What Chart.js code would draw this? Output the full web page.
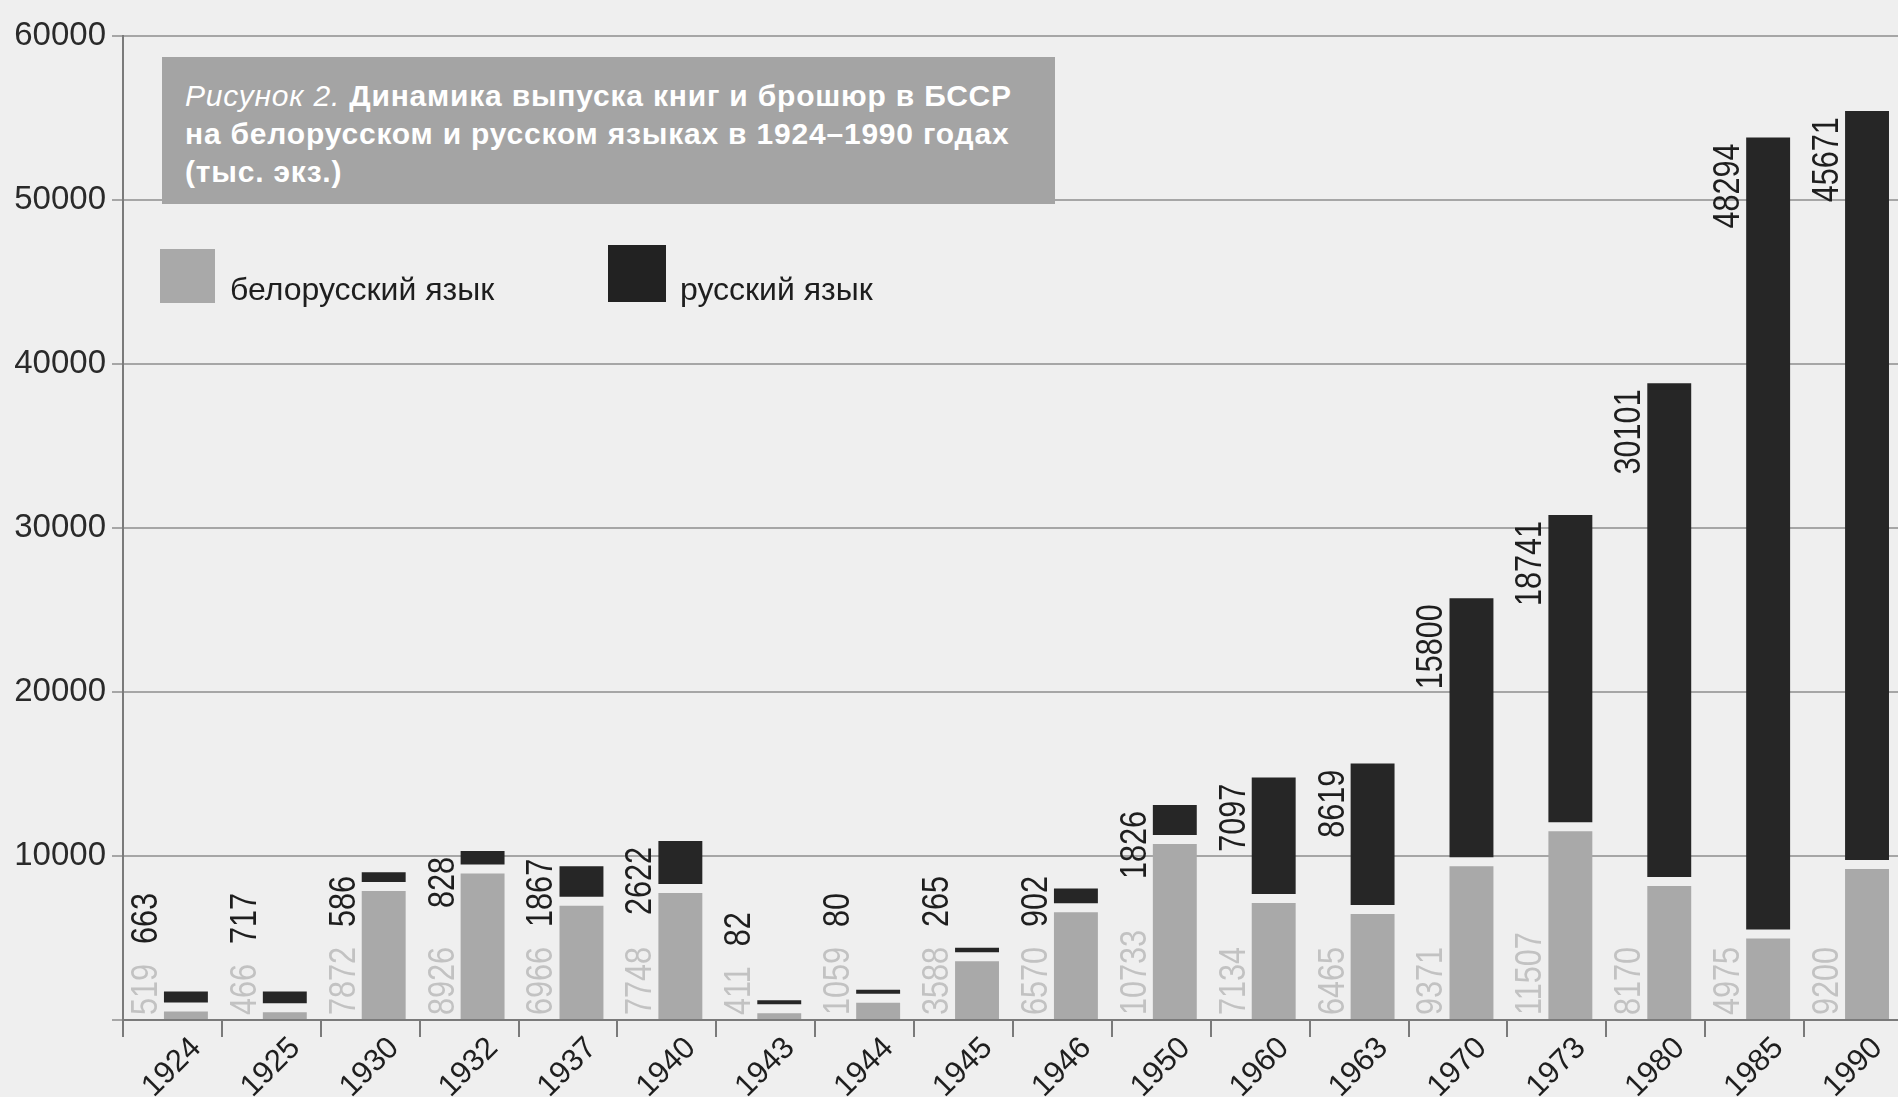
<!DOCTYPE html>
<html lang="ru">
<head>
<meta charset="utf-8">
<title>Динамика выпуска книг и брошюр в БССР</title>
<script src="https://cdn.jsdelivr.net/npm/chart.js@4.4.0/dist/chart.umd.min.js"></script>
<style>
  html, body {
    margin: 0;
    width: 1898px;
    height: 1097px;
    overflow: hidden;
    background: #efefef;
    font-family: 'Liberation Sans', Arial, sans-serif;
  }
  #wrap {
    position: absolute;
    left: 0;
    top: 0;
    width: 1906px;
    height: 1097px;
  }
  .title {
    position: absolute;
    left: 162px;
    top: 57px;
    width: 870px;
    height: 127px;
    padding: 20px 0 0 23px;
    background: #a4a4a4;
    color: #ffffff;
    font-size: 30px;
    letter-spacing: 0.8px;
    line-height: 38px;
    font-weight: bold;
    white-space: nowrap;
  }
  .title i {
    font-weight: normal;
  }
  .legend {
    position: absolute;
    top: 245px;
    font-size: 32px;
    color: #1e1e1e;
    white-space: nowrap;
  }
  .legend span.box {
    position: absolute;
    left: 0;
  }
  .legend span.txt {
    position: absolute;
    top: 26px;
  }
</style>
</head>
<body>
<div id="wrap"><canvas id="bookChart"></canvas></div>

<div class="title"><i>Рисунок 2.</i> Динамика выпуска книг и брошюр в БССР<br>на белорусском и русском языках в 1924–1990 годах<br>(тыс. экз.)</div>

<div class="legend" style="left:160px">
  <span class="box" style="background:#a9a9a9; top:4px; height:54px; width:55px"></span>
  <span class="txt" style="left:70px">белорусский язык</span>
</div>
<div class="legend" style="left:608px">
  <span class="box" style="background:#222222; top:0; width:58px; height:57px"></span>
  <span class="txt" style="left:72px">русский язык</span>
</div>

<script>
const categories = ['1924', '1925', '1930', '1932', '1937', '1940', '1943', '1944', '1945',
  '1946', '1950', '1960', '1963', '1970', '1973', '1980', '1985', '1990']
const belarusian = [519, 466, 7872, 8926, 6966, 7748, 411, 1059, 3588,
  6570, 10733, 7134, 6465, 9371, 11507, 8170, 4975, 9200]
const russian = [663, 717, 586, 828, 1867, 2622, 82, 80, 265,
  902, 1826, 7097, 8619, 15800, 18741, 30101, 48294, 45671]
const yTickValues = [0, 10000, 20000, 30000, 40000, 50000, 60000]

const FONT = "'Liberation Sans', Arial, sans-serif"
const RUS_LIFT = 9 // white gap between the two parts of a bar
const SQUEEZE = 0.85 // the print uses a condensed face

// rotated value labels to the left of every bar
const valueLabels = {
  id: 'valueLabels',
  beforeDatasetDraw(chart, args) {
    if (args.index === 2) {
      chart.ctx.save()
      chart.ctx.translate(0, -RUS_LIFT)
    }
  },
  afterDatasetDraw(chart, args) {
    if (args.index === 2) chart.ctx.restore()
  },
  afterDatasetsDraw(chart) {
    const ctx = chart.ctx
    const belMeta = chart.getDatasetMeta(1)
    const rusMeta = chart.getDatasetMeta(2)
    ctx.save()
    ctx.font = '36px ' + FONT
    ctx.textAlign = 'left'
    ctx.textBaseline = 'middle'
    belMeta.data.forEach((bar, i) => {
      const cx = bar.x - bar.width / 2 - 19
      const belText = String(belarusian[i])
      const rusText = String(russian[i])
      const belLen = ctx.measureText(belText).width * SQUEEZE
      const rusLen = ctx.measureText(rusText).width * SQUEEZE
      const belStart = bar.base - 4
      const rusTop = rusMeta.data[i].y - RUS_LIFT + 6
      const rusStart = Math.min(rusTop + rusLen, belStart - belLen - 20)
      drawUp(ctx, belText, cx, belStart, '#c2c2c2')
      drawUp(ctx, rusText, cx, rusStart, '#1e1e1e')
    })
    ctx.restore()
  }
}

function drawUp(ctx, text, x, y, color) {
  ctx.save()
  ctx.translate(x, y)
  ctx.rotate(-Math.PI / 2)
  ctx.scale(SQUEEZE, 1)
  ctx.fillStyle = color
  ctx.fillText(text, 0, 2)
  ctx.restore()
}

const ctx = document.getElementById('bookChart')
new Chart(ctx, {
  type: 'bar',
  data: {
    labels: categories,
    datasets: [
      {
        // empty stack, only pushes the real bars to the right half of the slot
        label: '',
        data: categories.map(() => null),
        stack: 'pad',
      },
      {
        label: 'белорусский язык',
        data: belarusian,
        stack: 'books',
        backgroundColor: '#a9a9a9',
      },
      {
        label: 'русский язык',
        data: russian,
        stack: 'books',
        backgroundColor: '#262626',
        minBarLength: 4,
      },
    ],
  },
  options: {
    animation: false,
    responsive: true,
    maintainAspectRatio: false,
    categoryPercentage: 0.545,
    barPercentage: 1.63,
    layout: { padding: { top: 36, right: 3, left: 0, bottom: 0 } },
    plugins: {
      legend: { display: false },
      tooltip: { enabled: false },
    },
    scales: {
      x: {
        stacked: true,
        afterFit: (scale) => { scale.height = 77 },
        grid: {
          offset: true,
          drawOnChartArea: false,
          tickLength: 17,
          tickColor: '#7a7a7a',
          lineWidth: 2,
        },
        border: { color: '#7a7a7a', width: 2 },
        ticks: {
          minRotation: 45,
          maxRotation: 45,
          autoSkip: false,
          labelOffset: 24,
          padding: -7,
          color: '#1e1e1e',
          font: { family: FONT, size: 31 },
        },
      },
      y: {
        stacked: true,
        min: 0,
        max: 60000,
        afterFit: (scale) => { scale.width = 123 },
        afterBuildTicks: (scale) => {
          scale.ticks = yTickValues.map(v => ({ value: v }))
        },
        grid: {
          color: '#a6a6a6',
          lineWidth: 2,
          tickLength: 11,
        },
        border: { color: '#7a7a7a', width: 2 },
        ticks: {
          padding: 6,
          color: '#2a2a2a',
          font: { family: FONT, size: 33 },
          callback: (v) => (v === 0 ? '' : String(v)),
        },
      },
    },
  },
  plugins: [valueLabels],
})
</script>
</body>
</html>
